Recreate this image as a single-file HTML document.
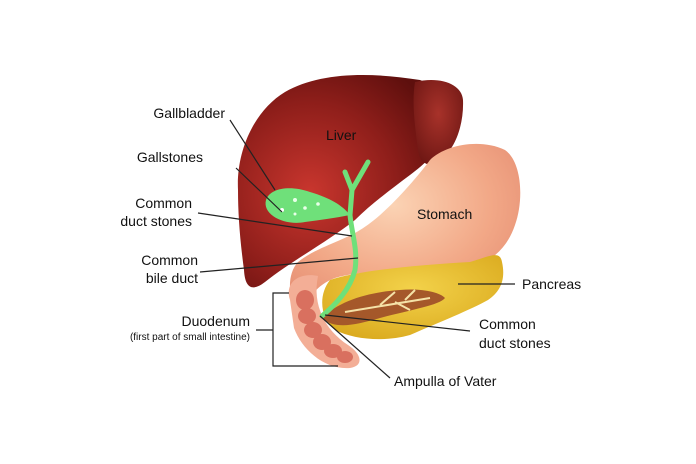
<!DOCTYPE html>
<html><head><style>
html,body{margin:0;padding:0;background:#fff;}
svg{display:block;}
text{font-family:"Liberation Sans",sans-serif;fill:#111;}
</style></head><body>
<svg width="696" height="464" viewBox="0 0 696 464" xmlns="http://www.w3.org/2000/svg">
<defs>
<radialGradient id="lv" cx="0.35" cy="0.55" r="0.7">
<stop offset="0" stop-color="#c9362e"/><stop offset="0.6" stop-color="#8e1e1a"/><stop offset="1" stop-color="#5e0f0d"/>
</radialGradient>
<radialGradient id="lv2" cx="0.5" cy="0.4" r="0.7">
<stop offset="0" stop-color="#a8322a"/><stop offset="1" stop-color="#6a1512"/>
</radialGradient>
<radialGradient id="st" cx="0.45" cy="0.35" r="0.7">
<stop offset="0" stop-color="#fbd3b4"/><stop offset="0.6" stop-color="#f2a887"/><stop offset="1" stop-color="#e58d72"/>
</radialGradient>
<radialGradient id="pc" cx="0.5" cy="0.4" r="0.7">
<stop offset="0" stop-color="#f3d24a"/><stop offset="1" stop-color="#d9a81c"/>
</radialGradient>
</defs>
<!-- liver -->
<path d="M238,190 C236,150 255,110 285,92 C320,72 370,72 420,80 L440,88 C455,140 430,160 410,175 C390,190 370,205 355,220 C330,240 290,262 265,282 C252,292 245,288 244,270 C240,240 238,215 238,190 Z" fill="url(#lv)"/>
<path d="M415,82 C440,76 462,84 463,100 C464,125 455,150 440,160 C430,168 420,165 418,150 C414,120 412,100 415,82 Z" fill="url(#lv2)"/>
<!-- stomach -->
<path d="M430,160 C445,145 480,138 505,150 C522,162 524,200 515,225 C505,255 480,272 440,272 C400,272 360,270 335,278 C318,284 305,300 300,318 C288,300 286,275 298,262 C315,248 345,240 360,230 C385,215 415,180 430,160 Z" fill="url(#st)"/>
<!-- pancreas -->
<path d="M330,280 C360,270 420,265 470,262 C490,256 500,250 502,262 C506,280 500,292 488,300 C470,310 440,322 410,335 C385,342 355,340 335,330 C320,318 318,295 330,280 Z" fill="url(#pc)"/>
<path d="M322,318 C340,300 370,292 400,290 C420,288 440,292 445,298 C440,305 410,310 380,318 C355,325 335,330 322,318 Z" fill="#a5582a"/>
<path d="M345,312 L430,298 M380,305 L395,292 M395,302 L410,310 M405,300 L415,290" stroke="#f5e2a8" stroke-width="2" fill="none"/>
<!-- duodenum -->
<path d="M290,300 C284,282 300,272 318,276 C312,305 325,330 348,345 C362,354 364,366 350,368 C325,370 302,350 294,328 Z" fill="#f3ae96"/>
<g fill="#d9705f">
<ellipse cx="305" cy="300" rx="9" ry="10"/>
<ellipse cx="307" cy="316" rx="9" ry="8"/>
<ellipse cx="313" cy="330" rx="9" ry="8"/>
<ellipse cx="322" cy="342" rx="9" ry="8"/>
<ellipse cx="333" cy="351" rx="9" ry="7"/>
<ellipse cx="345" cy="357" rx="8" ry="6"/>
</g>
<!-- bile duct -->
<path d="M345,172 L352,190 L368,162 M352,190 L350,215 C352,235 358,250 355,270 C350,290 335,305 322,316" stroke="#6fe07a" stroke-width="5" fill="none" stroke-linecap="round"/>
<path d="M266,200 C270,188 290,185 310,192 C330,198 342,205 350,215 C335,218 320,220 305,222 C285,226 262,215 266,200 Z" fill="#6fe07a"/>
<circle cx="282" cy="210" r="2" fill="#fff"/><circle cx="295" cy="200" r="2" fill="#e8ffe8"/><circle cx="305" cy="208" r="1.8" fill="#e8ffe8"/><circle cx="318" cy="204" r="1.8" fill="#e8ffe8"/><circle cx="295" cy="214" r="1.5" fill="#e8ffe8"/>
<!-- lines -->
<g stroke="#222" stroke-width="1.2" fill="none">
<path d="M230,120 L275,190"/>
<path d="M236,168 L282,212"/>
<path d="M198,213 L352,236"/>
<path d="M200,272 L358,258"/>
<path d="M289,293 L273,293 L273,366 L338,366 M256,330 L273,330"/>
<path d="M458,284 L515,284"/>
<path d="M325,315 L470,331"/>
<path d="M320,316 L390,378"/>
</g>
<!-- labels -->
<g font-size="14">
<text x="225" y="118" text-anchor="end">Gallbladder</text>
<text x="203" y="162" text-anchor="end">Gallstones</text>
<text x="192" y="208" text-anchor="end">Common</text>
<text x="192" y="226" text-anchor="end">duct stones</text>
<text x="198" y="265" text-anchor="end">Common</text>
<text x="198" y="283" text-anchor="end">bile duct</text>
<text x="250" y="326" text-anchor="end">Duodenum</text>
<text x="326" y="140">Liver</text>
<text x="417" y="219">Stomach</text>
<text x="522" y="289">Pancreas</text>
<text x="479" y="329">Common</text>
<text x="479" y="348">duct stones</text>
<text x="394" y="386">Ampulla of Vater</text>
</g>
<text x="250" y="340" text-anchor="end" font-size="10">(first part of small intestine)</text>
</svg>
</body></html>
